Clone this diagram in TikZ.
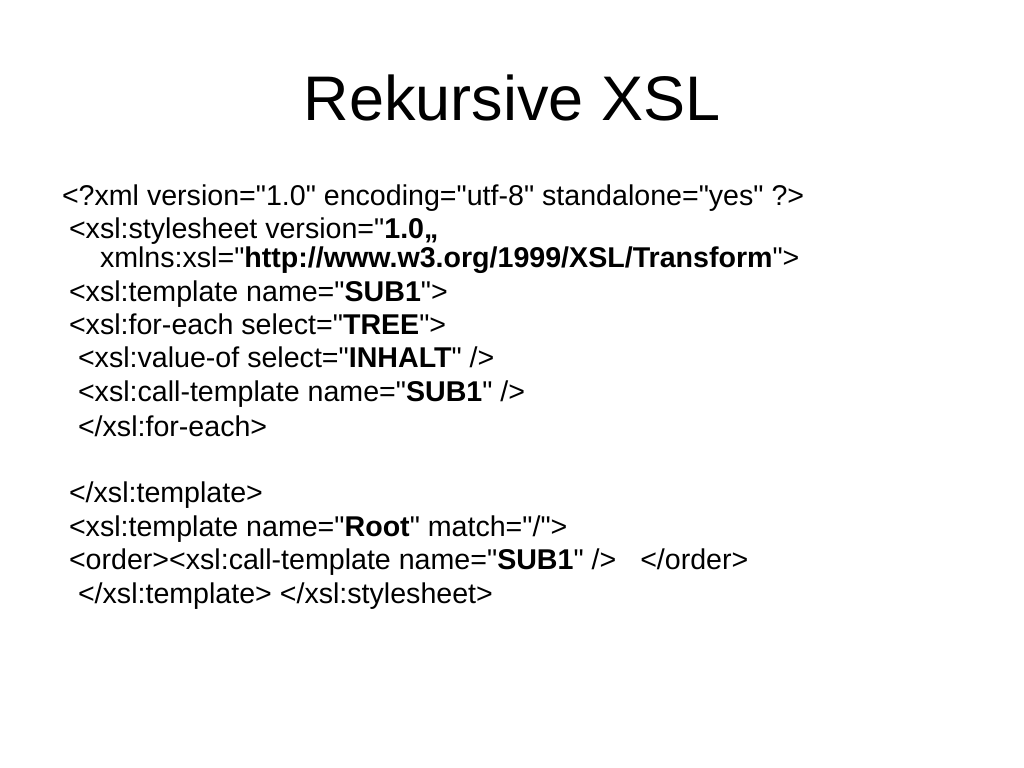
\documentclass[tikz,border=0pt]{standalone}
\usepackage{fontspec}
\setmainfont{Liberation Sans}[Ligatures=TeXOff]
\begin{document}
\begin{tikzpicture}[x=1bp,y=-1bp,
  ln/.style={anchor=base west,inner sep=0pt,outer sep=0pt,font=\fontsize{28.6bp}{34bp}\selectfont},
  ttl/.style={anchor=base,inner sep=0pt,font=\fontsize{63bp}{70bp}\selectfont}]
\useasboundingbox[fill=white] (0,0) rectangle (1024,768);
\node[ttl] (title) at (512,120) {Rekursive XSL};
\node[ln] (l1) at (62,205) {<?xml version="1.0" encoding="utf-8" standalone="yes" ?>};
\node[ln] (l2) at (69,238) {<xsl:stylesheet version="\textbf{1.0„}};
\node[ln] (l3) at (100,267) {xmlns:xsl="\textbf{http://www.w3.org/1999/XSL/Transform}">};
\node[ln] (l4) at (69,301) {<xsl:template name="\textbf{SUB1}">};
\node[ln] (l5) at (69,334) {<xsl:for-each select="\textbf{TREE}">};
\node[ln] (l6) at (78,367.5) {<xsl:value-of select="\textbf{INHALT}" />};
\node[ln] (l7) at (78,401) {<xsl:call-template name="\textbf{SUB1}" />};
\node[ln] (l8) at (78,436) {</xsl:for-each>};
\node[ln] (l9) at (69,502.5) {</xsl:template>};
\node[ln] (l10) at (69,536) {<xsl:template name="\textbf{Root}" match="/">};
\node[ln] (l11) at (69,569) {<order><xsl:call-template name="\textbf{SUB1}" />\hspace{24bp}</order>};
\node[ln] (l12) at (78,603) {</xsl:template> </xsl:stylesheet>};
\end{tikzpicture}
\end{document}
